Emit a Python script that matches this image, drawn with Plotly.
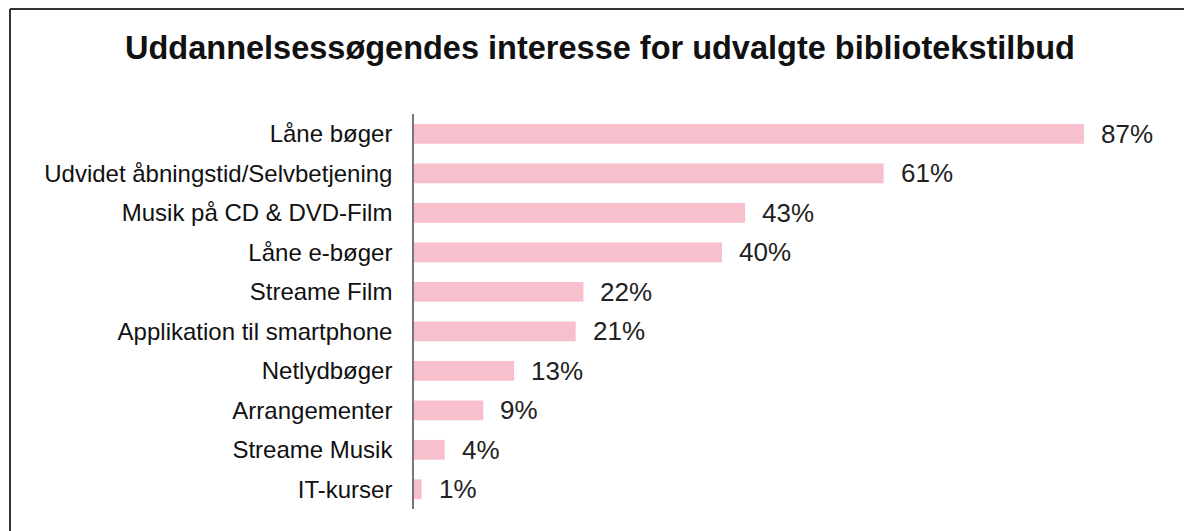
import plotly.graph_objects as go

categories = ["Låne bøger", "Udvidet åbningstid/Selvbetjening", "Musik på CD & DVD-Film",
              "Låne e-bøger", "Streame Film", "Applikation til smartphone", "Netlydbøger",
              "Arrangementer", "Streame Musik", "IT-kurser"]
values = [87, 61, 43, 40, 22, 21, 13, 9, 4, 1]
labels = [f"{v}%" for v in values]

# page shows figure offset by 8px body margin
W, H = 1184, 523
L, R, T, B = 406, 8, 106, 22
pw, ph = W - L - R, H - T - B

fig = go.Figure(go.Bar(
    x=values, y=categories, orientation="h",
    marker=dict(color="#F8C0CC", line=dict(width=0)),
    width=0.5, hoverinfo="skip",
))

for c, v, t in zip(categories, values, labels):
    fig.add_annotation(x=v, y=c, text=t, xanchor="left", yanchor="middle",
                       xshift=15, showarrow=False,
                       font=dict(family="Liberation Sans, Arial", size=26, color="#222"))

def px2x(p):
    return (p - L) / pw

def py2y(p):
    return (H - B - p) / ph

# frame: top and left edges
fig.add_shape(type="line", xref="paper", yref="paper",
              x0=px2x(2), x1=px2x(1190), y0=py2y(1), y1=py2y(1),
              line=dict(color="#333", width=2), layer="below")
fig.add_shape(type="line", xref="paper", yref="paper",
              x0=px2x(2), x1=px2x(2), y0=py2y(1), y1=py2y(540),
              line=dict(color="#333", width=2), layer="below")

fig.update_layout(
    width=W, height=H,
    margin=dict(l=L, r=R, t=T, b=B),
    paper_bgcolor="white", plot_bgcolor="white",
    showlegend=False,
    title=dict(text="<b>Uddannelsessøgendes interesse for udvalgte bibliotekstilbud</b>",
               x=0.5, xanchor="center", xref="container",
               y=1 - 40 / H, yanchor="middle", yref="container",
               font=dict(family="Liberation Sans, Arial", size=32.5, color="#111")),
    xaxis=dict(range=[0, 100], visible=False, fixedrange=True),
    yaxis=dict(autorange=False, range=[9.5, -0.5], categoryorder="array",
               categoryarray=categories, showline=True, linecolor="#777", linewidth=1.5,
               showgrid=False, ticks="", ticklabelstandoff=15, zeroline=False,
               tickfont=dict(family="Liberation Sans, Arial", size=24, color="#111")),
)

fig.write_html("out.html")
